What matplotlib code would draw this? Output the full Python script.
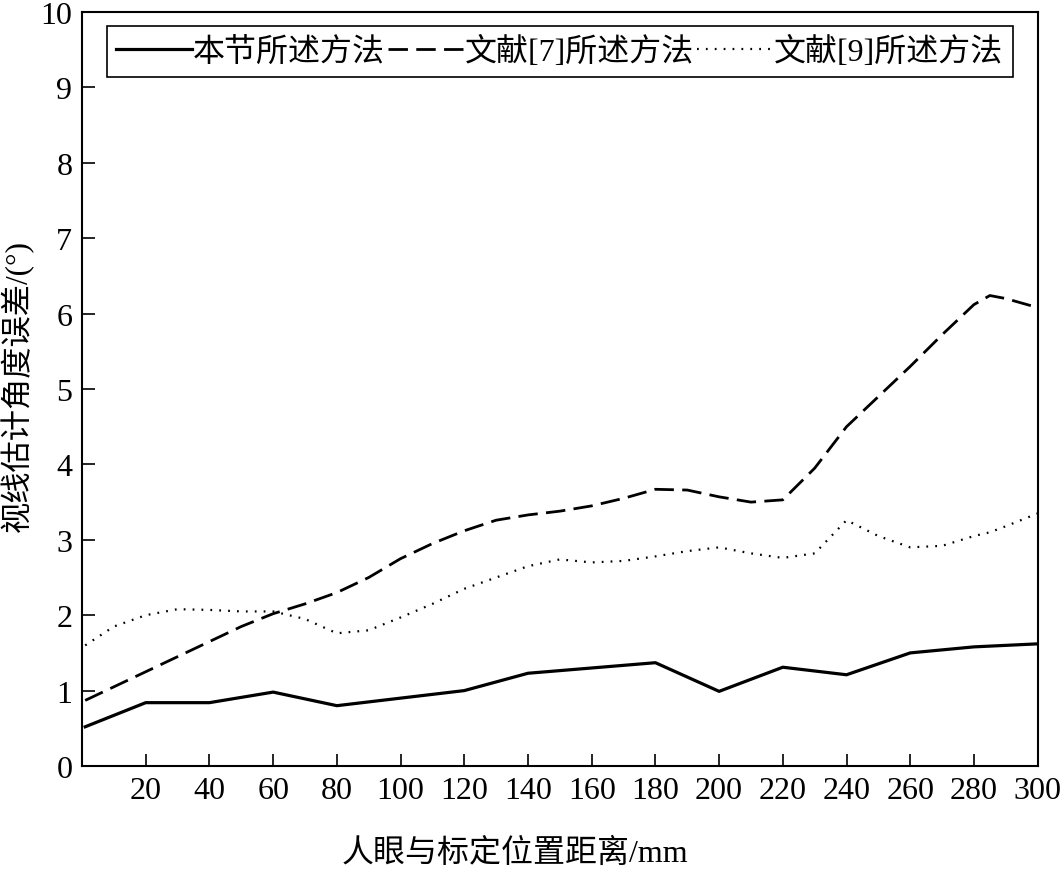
import matplotlib
matplotlib.use("Agg")
import matplotlib.pyplot as plt
import numpy as np

plt.rcParams['font.family'] = ['Liberation Serif', 'Noto Sans CJK SC']

# data
x_ours = [1, 20, 40, 60, 80, 100, 120, 140, 160, 180, 200, 220, 240, 260, 280, 300]
y_ours = [0.52, 0.84, 0.84, 0.98, 0.80, 0.90, 1.00, 1.23, 1.30, 1.37, 0.99, 1.31, 1.21, 1.50, 1.58, 1.62]

x_ref = [1, 10, 20, 30, 40, 50, 60, 70, 80, 90, 100, 110, 120, 130, 140, 150,
         160, 170, 180, 190, 200, 210, 220, 230, 240, 250, 260, 270, 280, 285, 290, 300]
y_ref7 = [0.87, 1.05, 1.25, 1.45, 1.65, 1.85, 2.02, 2.15, 2.30, 2.50, 2.75, 2.95, 3.12, 3.26, 3.33, 3.38,
          3.45, 3.55, 3.67, 3.66, 3.57, 3.50, 3.53, 3.95, 4.50, 4.90, 5.30, 5.72, 6.12, 6.24, 6.20, 6.08]
y_ref9 = [1.60, 1.85, 2.00, 2.08, 2.07, 2.05, 2.05, 1.95, 1.76, 1.80, 1.97, 2.15, 2.35, 2.50, 2.65, 2.74,
          2.70, 2.72, 2.78, 2.85, 2.90, 2.82, 2.76, 2.82, 3.26, 3.05, 2.90, 2.92, 3.05, 3.10, 3.18, 3.35]

labels = ["本节所述方法", "文献[7]所述方法", "文献[9]所述方法"]
xticks = list(range(20, 301, 20))
yticks = list(range(0, 11))

fig = plt.figure(figsize=(10.61, 8.7), dpi=100)
ax = fig.add_axes([0.0773, 0.1184, 0.9007, 0.8666])

ax.plot(x_ours, y_ours, "k-", lw=2.3, label=labels[0])
ax.plot(x_ref, y_ref7, color="k", lw=2.0, linestyle=(0, (7, 3)), label=labels[1])
ax.plot(x_ref, y_ref9, color="k", lw=1.6, linestyle=(0, (0.8, 3.2)), label=labels[2])

ax.set_xlim(0, 300)
ax.set_ylim(0, 10)
ax.set_xticks(xticks)
ax.set_yticks(yticks)
ax.tick_params(direction="in", length=9, width=1.2, labelsize=23, pad=7)
for s in ax.spines.values():
    s.set_linewidth(1.5)

ax.set_xlabel("人眼与标定位置距离/mm", fontsize=23)
ax.xaxis.set_label_coords(0.453, -0.095)
ax.set_ylabel("视线估计角度误差/(°)", fontsize=22.5)
ax.yaxis.set_label_coords(-0.05, 0.505)

leg = ax.legend(loc="upper left", bbox_to_anchor=(0.026, 0.981), ncol=3, fontsize=23,
                frameon=True, fancybox=False, framealpha=1, edgecolor="k",
                handlelength=2.35, handletextpad=0.05, columnspacing=0.1,
                borderpad=0.3, borderaxespad=0)
leg.get_frame().set_linewidth(1.2)

fig.savefig("out.png", dpi=100)
